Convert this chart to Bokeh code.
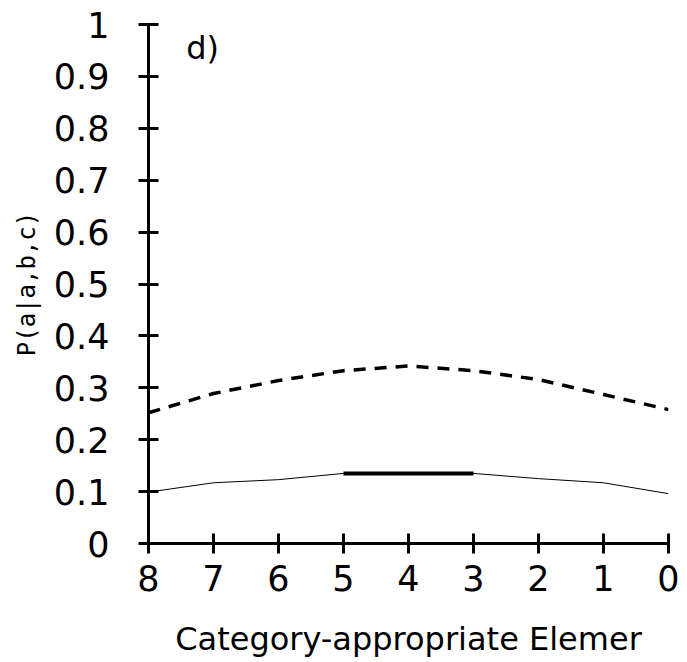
from bokeh.plotting import figure
from bokeh.models import Range1d, FixedTicker, Label
from bokeh.embed import file_html
from bokeh.resources import INLINE

# ---- data ----
x_vals = [8, 7, 6, 5, 4, 3, 2, 1, 0]
dashed_vals = [0.252, 0.289, 0.314, 0.333, 0.342, 0.333, 0.316, 0.287, 0.258]
solid_vals = [0.099, 0.117, 0.123, 0.135, 0.135, 0.135, 0.125, 0.117, 0.096]
thick_x = [5, 4, 3]
thick_vals = [0.135, 0.135, 0.135]
x_ticks = [0, 1, 2, 3, 4, 5, 6, 7, 8]
y_ticks = [0, 0.1, 0.2, 0.3, 0.4, 0.5, 0.6, 0.7, 0.8, 0.9, 1.0]
y_tick_labels = ["0", "0.1", "0.2", "0.3", "0.4", "0.5", "0.6", "0.7", "0.8", "0.9", "1"]
x_label = "Category-appropriate Elemer"
y_label = "P(a|a,b,c)"
panel_tag = "d)"

p = figure(width=687, height=662, output_backend="svg", toolbar_location=None,
           x_range=Range1d(8, 0), y_range=Range1d(0, 1),
           min_border_left=148, min_border_right=19,
           min_border_top=24, min_border_bottom=119)
p.outline_line_color = None
p.xgrid.grid_line_color = None
p.ygrid.grid_line_color = None
p.background_fill_color = "white"
p.border_fill_color = "white"

p.line(x_vals, dashed_vals, line_color="black", line_width=3.5, line_dash="12 9")
p.line(x_vals, solid_vals, line_color="black", line_width=1)
p.line(thick_x, thick_vals, line_color="black", line_width=4)

for ax in (p.xaxis[0], p.yaxis[0]):
    ax.axis_line_width = 3
    ax.axis_line_color = "black"
    ax.major_tick_line_width = 3
    ax.major_tick_line_color = "black"
    ax.major_tick_in = 10
    ax.major_tick_out = 10
    ax.minor_tick_line_color = None
    ax.major_label_text_font = "DejaVu Sans"
    ax.major_label_text_font_size = "35px"
    ax.major_label_text_color = "black"
    ax.axis_label_text_font_style = "normal"
    ax.axis_label_text_color = "black"

p.xaxis.ticker = FixedTicker(ticks=x_ticks)
p.yaxis.ticker = FixedTicker(ticks=y_ticks)
p.yaxis.major_label_overrides = {t: l for t, l in zip(y_ticks, y_tick_labels)}
p.xaxis.major_label_standoff = 11
p.yaxis.major_label_standoff = 29

p.xaxis.axis_label = x_label
p.xaxis.axis_label_text_font = "DejaVu Sans"
p.xaxis.axis_label_text_font_size = "32px"
p.xaxis.axis_label_standoff = 26

p.yaxis.axis_label = y_label
p.yaxis.axis_label_text_font = "DejaVu Sans Mono"
p.yaxis.axis_label_text_font_size = "24px"
p.yaxis.axis_label_standoff = 10

p.add_layout(Label(x=7.42, y=0.955, text=panel_tag, text_font="DejaVu Sans",
                   text_font_size="32px", text_color="black",
                   text_align="left", text_baseline="alphabetic"))

open("out.html", "w").write(file_html(p, INLINE))
